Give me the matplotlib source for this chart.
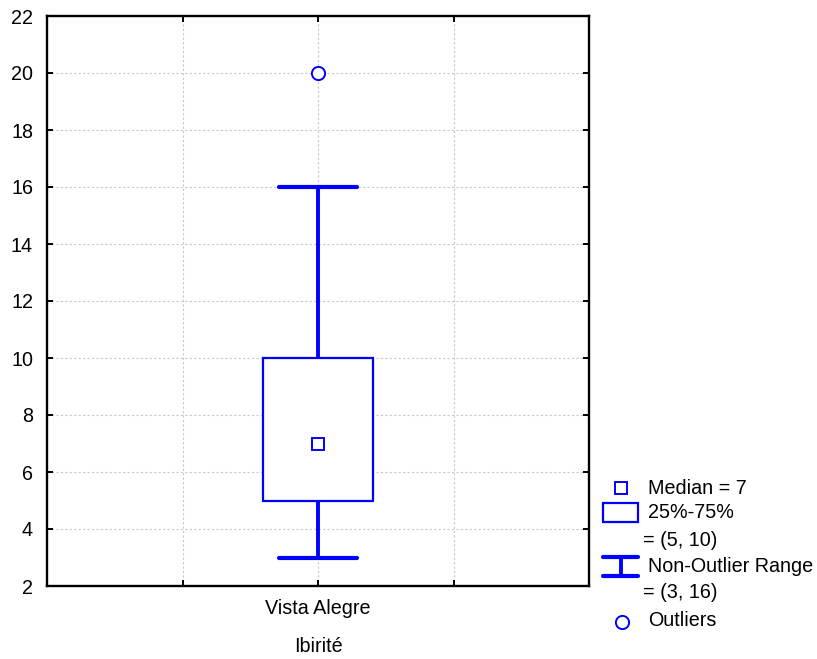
import matplotlib
matplotlib.use("Agg")
import matplotlib.pyplot as plt
from matplotlib.patches import Rectangle
from matplotlib.lines import Line2D

plt.rcParams['font.family'] = ['Liberation Sans', 'DejaVu Sans']

# Summary statistics for the single group
group_label = "Vista Alegre"
axis_title = "Ibirité"
median = 7
q1, q3 = 5, 10
whisker_lo, whisker_hi = 3, 16
outliers = [20]
y_ticks = [2, 4, 6, 8, 10, 12, 14, 16, 18, 20, 22]

BLUE = "#0000ff"
W, H = 817, 659
FS = 14.2

fig = plt.figure(figsize=(W / 100, H / 100), dpi=100)
ax = fig.add_axes([47 / W, 1 - 586 / H, 542 / W, 570 / H])

pos = 2
box_w = 0.81
cap_w = 0.58

# box
ax.add_patch(Rectangle((pos - box_w / 2, q1), box_w, q3 - q1,
                       facecolor="white", edgecolor=BLUE, linewidth=1.6, zorder=3))
# whiskers and caps
ax.vlines(pos, whisker_lo, q1, color=BLUE, linewidth=2.8, zorder=3)
ax.vlines(pos, q3, whisker_hi, color=BLUE, linewidth=2.8, zorder=3)
ax.hlines([whisker_lo, whisker_hi], pos - cap_w / 2, pos + cap_w / 2,
          color=BLUE, linewidth=3.0, zorder=3, capstyle="round")
# median marker
ax.plot([pos], [median], marker="s", markersize=9, markerfacecolor="white",
        markeredgecolor=BLUE, markeredgewidth=1.4, linestyle="none", zorder=4)
# outliers
ax.plot([pos] * len(outliers), outliers, marker="o", markersize=9.5,
        markerfacecolor="white", markeredgecolor=BLUE, markeredgewidth=1.4,
        linestyle="none", zorder=4)

ax.set_xlim(0, 4)
ax.set_ylim(2, 22)
ax.set_yticks(y_ticks)
ax.set_xticks([1, 2, 3])
ax.set_xticklabels(["", group_label, ""])
ax.tick_params(direction="in", length=4, width=1.4, labelsize=FS,
               top=True, right=True, pad=10)
ax.tick_params(axis="x", pad=9)
ax.grid(True, color="#c8c8c8", linestyle=(0, (2, 2)), linewidth=0.8)
ax.set_axisbelow(True)
for s in ax.spines.values():
    s.set_linewidth(1.7)
ax.set_xlabel(axis_title, fontsize=FS, labelpad=14)


# legend drawn in figure pixel coordinates
def fp(x, y):
    return (x / W, 1 - y / H)


tr = fig.transFigure
# median key
fig.add_artist(Line2D([fp(621, 0)[0]], [fp(0, 488)[1]], marker="s", markersize=9,
                      markerfacecolor="white", markeredgecolor=BLUE,
                      markeredgewidth=1.4, transform=tr))
fig.text(*fp(648, 488), "Median = %g" % median, fontsize=FS, va="center", ha="left")
# box key
x0, y0 = fp(603, 522)
x1, y1 = fp(638, 503)
fig.add_artist(Rectangle((x0, y0), x1 - x0, y1 - y0, facecolor="white",
                         edgecolor=BLUE, linewidth=1.6, transform=tr))
fig.text(*fp(648, 512), "25%-75%", fontsize=FS, va="center", ha="left")
fig.text(*fp(643, 541), "= (%g, %g)" % (q1, q3), fontsize=FS, va="center", ha="left")
# whisker key
xa, ya = fp(603, 557)
xb, yb = fp(638, 576)
xm = (xa + xb) / 2
fig.add_artist(Line2D([xa, xb], [ya, ya], color=BLUE, linewidth=3.0,
                      solid_capstyle="round", transform=tr))
fig.add_artist(Line2D([xa, xb], [yb, yb], color=BLUE, linewidth=3.0,
                      solid_capstyle="round", transform=tr))
fig.add_artist(Line2D([xm, xm], [ya, yb], color=BLUE, linewidth=2.8, transform=tr))
fig.text(*fp(648, 567), "Non-Outlier Range", fontsize=FS, va="center", ha="left")
fig.text(*fp(643, 593), "= (%g, %g)" % (whisker_lo, whisker_hi), fontsize=FS,
         va="center", ha="left")
# outlier key
fig.add_artist(Line2D([fp(622, 0)[0]], [fp(0, 622)[1]], marker="o", markersize=9.5,
                      markerfacecolor="white", markeredgecolor=BLUE,
                      markeredgewidth=1.4, transform=tr))
fig.text(*fp(648, 621), "Outliers", fontsize=FS, va="center", ha="left")

fig.savefig("out.png", dpi=100)
